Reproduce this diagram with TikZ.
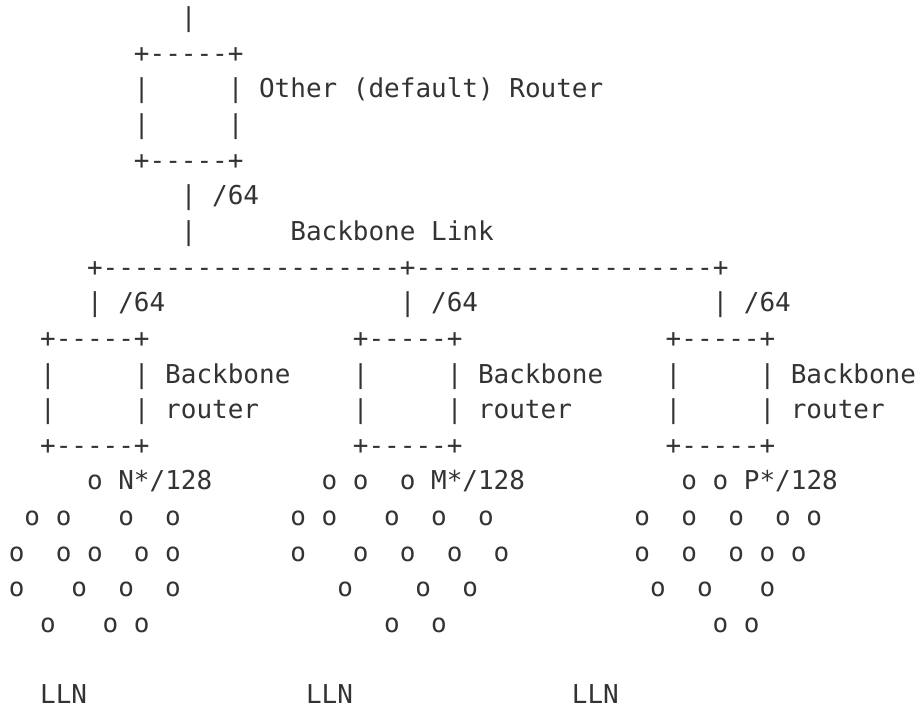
\documentclass[tikz,border=0pt]{standalone}
\usepackage{fontspec}
\newfontfamily\asciifont[Ligatures=TeXOff]{DejaVu Sans Mono}
\definecolor{asciigray}{HTML}{333333}
\tikzset{
  ascii/.style={font=\asciifont\fontsize{19.49}{24}\selectfont,
    text=asciigray, inner sep=0pt, anchor=base west}
}
\begin{document}
\begin{tikzpicture}[x=11.73pt, y=-26.7375pt]
    \useasboundingbox (-6.435pt,19.875pt) rectangle (679.815pt,-510.375pt);

    % Router di default
    \node[ascii] (uplink) at (11,0) {|};
    \node[ascii] (dr-top) at (8,1) {+-----+};
    \node[ascii] (dr-l1) at (8,2) {|};
    \node[ascii] (dr-r1) at (14,2) {|};
    \node[ascii] (dr-label) at (16,2) {Other (default) Router};
    \node[ascii] (dr-l2) at (8,3) {|};
    \node[ascii] (dr-r2) at (14,3) {|};
    \node[ascii] (dr-bot) at (8,4) {+-----+};
    \node[ascii] (dr-down1) at (11,5) {|};
    \node[ascii] (dr-prefix) at (13,5) {/64};
    \node[ascii] (dr-down2) at (11,6) {|};
    \node[ascii] (link-label) at (18,6) {Backbone Link};

    % Backbone link
    \node[ascii] (link) at (5,7) {+-------------------+-------------------+};

    % Backbone router
    \foreach \b/\n in {2/1,22/2,42/3} {
        \node[ascii] (drop\n) at (\b+3,8) {|};
        \node[ascii] (drop\n-prefix) at (\b+5,8) {/64};
        \node[ascii] (bbr\n-top) at (\b,9) {+-----+};
        \node[ascii] (bbr\n-l1) at (\b,10) {|};
        \node[ascii] (bbr\n-r1) at (\b+6,10) {|};
        \node[ascii] (bbr\n-label) at (\b+8,10) {Backbone};
        \node[ascii] (bbr\n-l2) at (\b,11) {|};
        \node[ascii] (bbr\n-r2) at (\b+6,11) {|};
        \node[ascii] (bbr\n-label2) at (\b+8,11) {router};
        \node[ascii] (bbr\n-bot) at (\b,12) {+-----+};
    }

    % Prefissi /128
    \node[ascii] (n-prefix) at (7,13) {N*/128};
    \node[ascii] (m-prefix) at (27,13) {M*/128};
    \node[ascii] (p-prefix) at (47,13) {P*/128};

    % Nodi delle LLN
    \foreach \c/\r in {5/13,20/13,22/13,25/13,43/13,45/13,
        1/14,3/14,7/14,10/14,18/14,20/14,24/14,27/14,30/14,40/14,43/14,46/14,49/14,51/14,
        0/15,3/15,5/15,8/15,10/15,18/15,22/15,25/15,28/15,31/15,40/15,43/15,46/15,48/15,50/15,
        0/16,4/16,7/16,10/16,21/16,26/16,29/16,41/16,44/16,48/16,
        2/17,6/17,8/17,24/17,27/17,45/17,47/17}
        \node[ascii] (o-\r-\c) at (\c,\r) {o};

    % Etichette LLN
    \node[ascii] (lln1) at (2,19) {LLN};
    \node[ascii] (lln2) at (19,19) {LLN};
    \node[ascii] (lln3) at (36,19) {LLN};

\end{tikzpicture}
\end{document}
